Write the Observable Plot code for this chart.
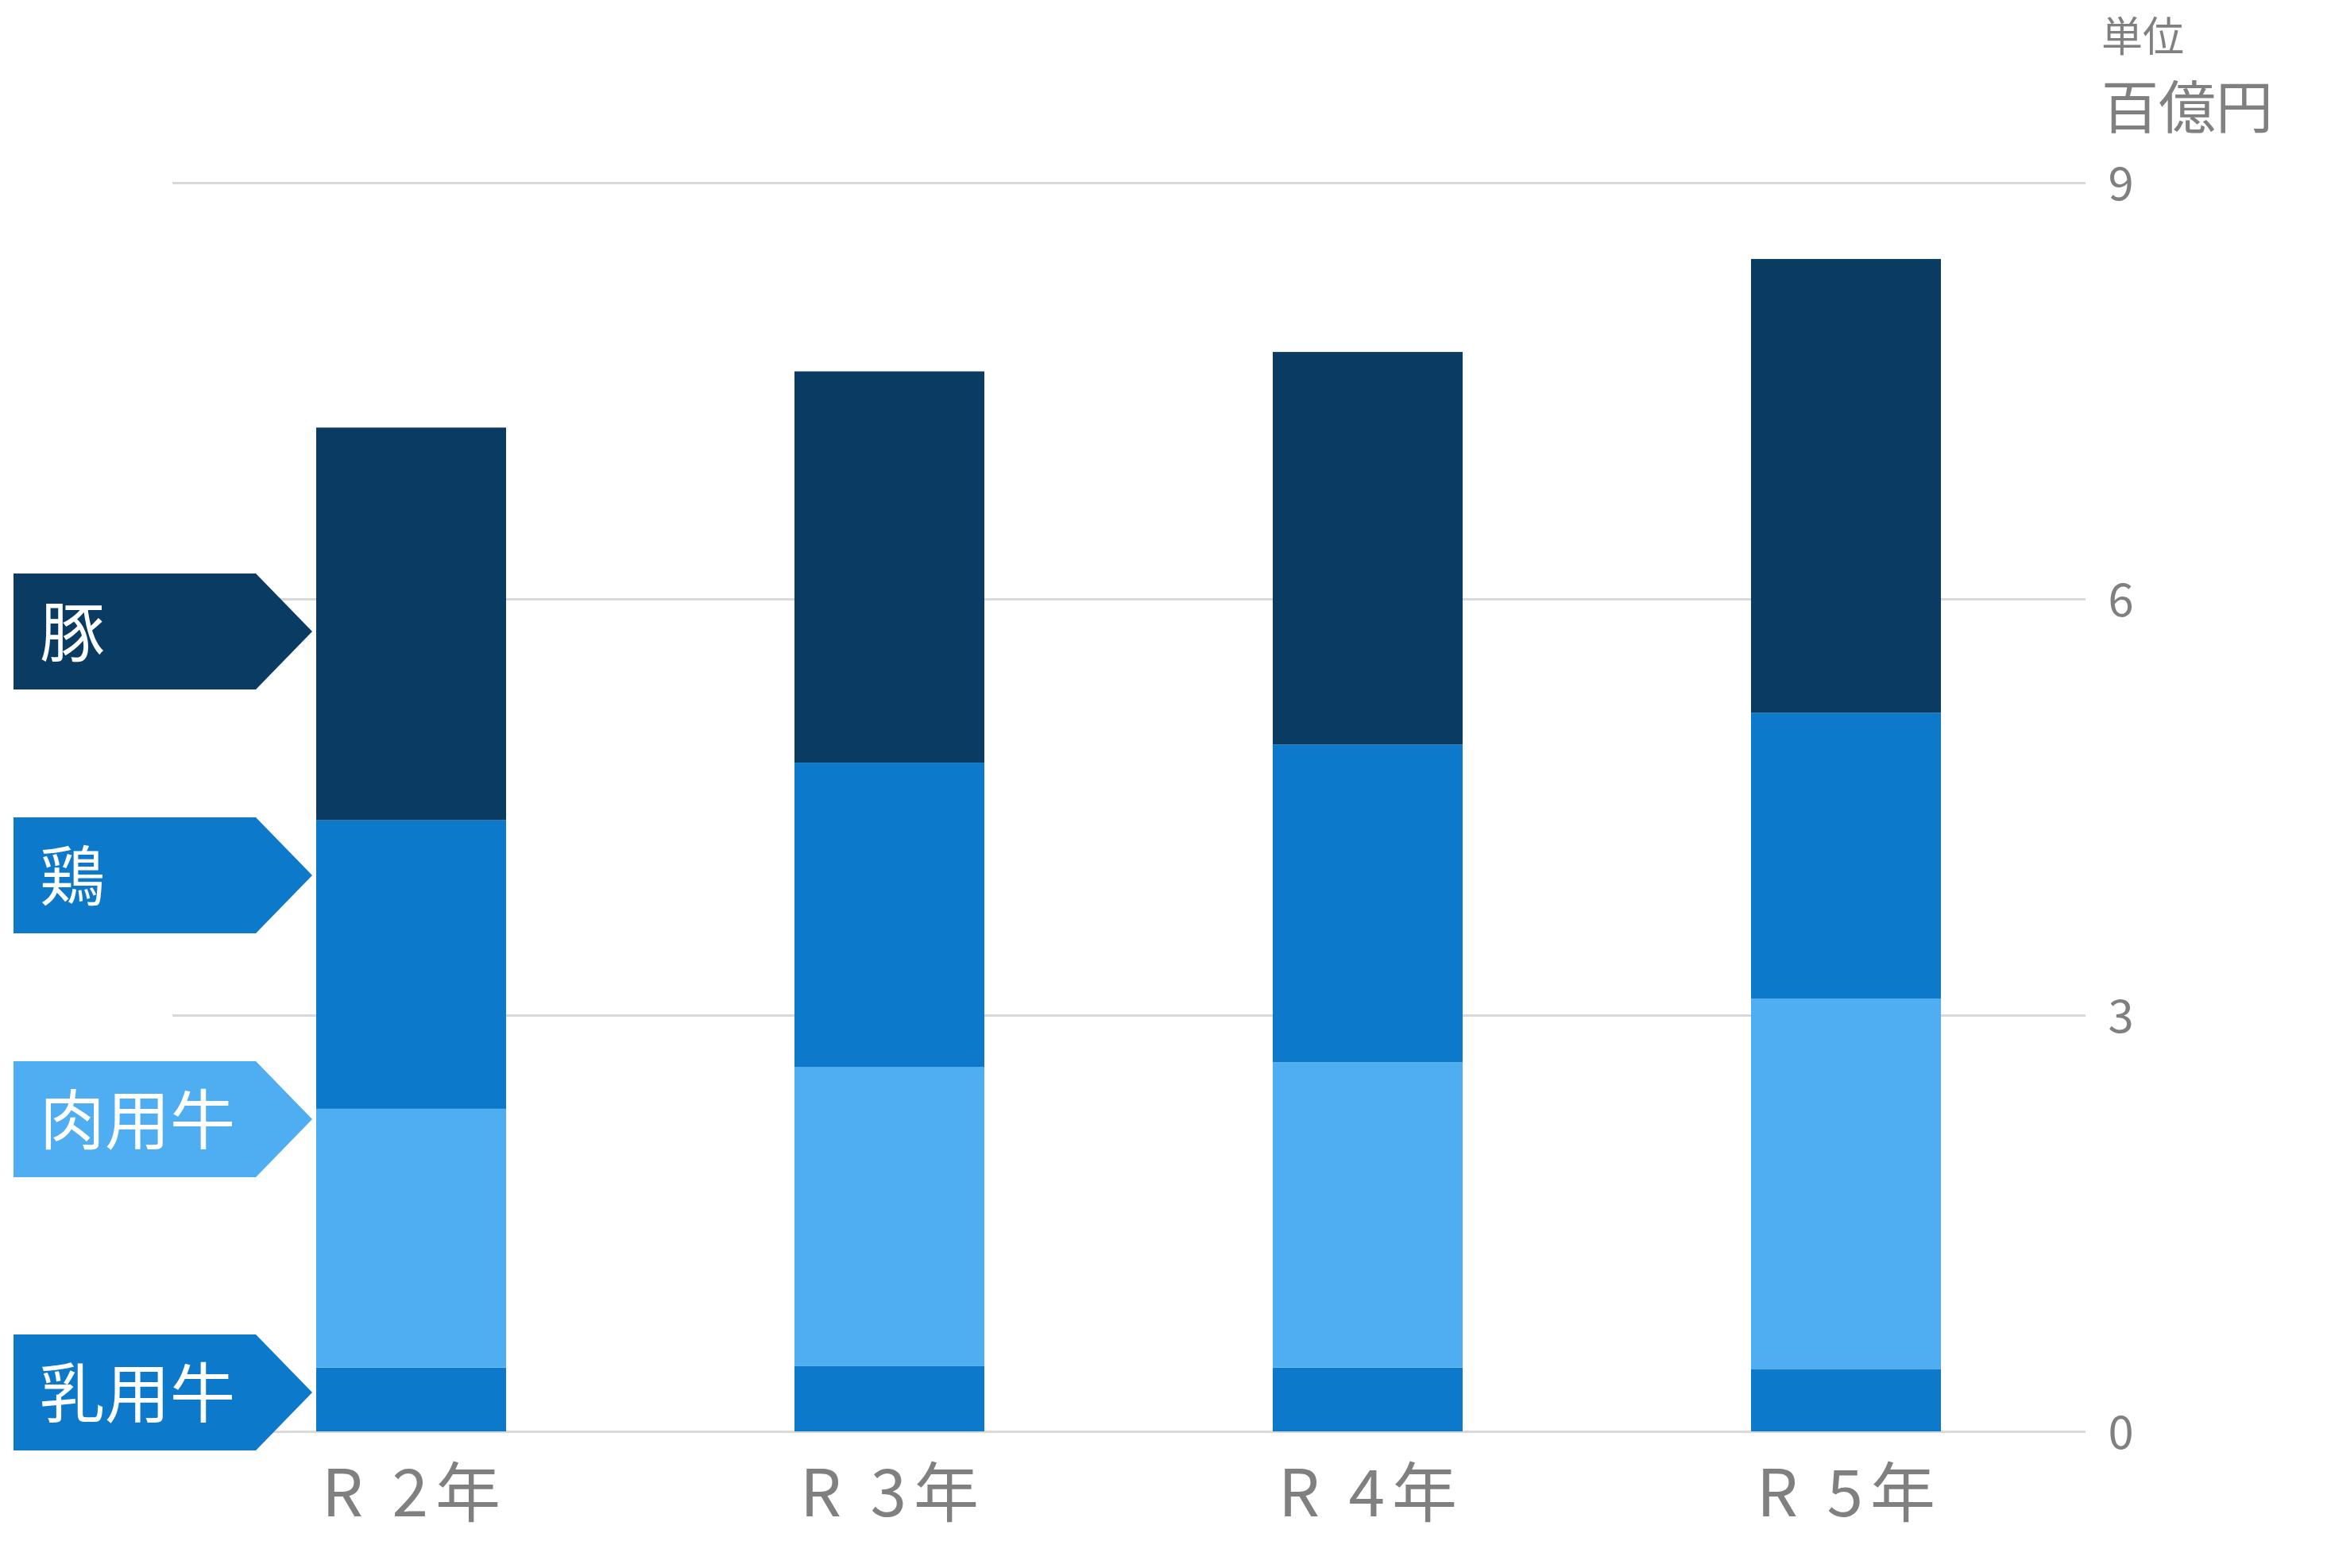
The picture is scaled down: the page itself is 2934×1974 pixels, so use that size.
<!DOCTYPE html>
<html>
<head>
<meta charset="utf-8">
<script src="https://cdn.jsdelivr.net/npm/d3@7"></script>
<script src="https://cdn.jsdelivr.net/npm/@observablehq/plot@0.6"></script>
<style>
  html, body { margin: 0; padding: 0; background: #ffffff; }
  #wrap { position: relative; width: 2934px; height: 1974px; font-family: "Noto Sans CJK JP", "Noto Sans", sans-serif; }
  #overlay { position: absolute; left: 0; top: 0; pointer-events: none; }
  g[aria-label="x-axis tick label"] text { letter-spacing: 9px; }
</style>
</head>
<body>
<div id="wrap"></div>
<script>
// ---- data ----
const years = ["R 2年", "R 3年", "R 4年", "R 5年"];
const seriesNames = ["乳用牛", "肉用牛", "鶏", "豚"]; // stacked bottom -> top
const dairyCattle = [0.46, 0.47, 0.46, 0.45];
const beefCattle  = [1.865, 2.155, 2.20, 2.67];
const chicken     = [2.08, 2.195, 2.29, 2.06];
const pork        = [2.83, 2.82, 2.83, 3.27];
const seriesColors = ["#0D79CA", "#4FADF1", "#0D79CA", "#093B63"];
const yTicks = [0, 3, 6, 9];
const unitLabel1 = "単位";
const unitLabel2 = "百億円";
// legend tags, top -> bottom
const legendNames = ["豚", "鶏", "肉用牛", "乳用牛"];
const legendColors = ["#093B63", "#0D79CA", "#4FADF1", "#0D79CA"];

// ---- table ----
const seriesValues = [dairyCattle, beefCattle, chicken, pork];
const rows = [];
years.forEach((yr, i) => {
  seriesNames.forEach((s, j) => rows.push({year: yr, series: s, value: seriesValues[j][i]}));
});

const font = "Noto Sans CJK JP, Noto Sans, sans-serif";
const chart = Plot.plot({
  width: 2934,
  height: 1974,
  marginTop: 230,
  marginBottom: 172,
  marginLeft: 217,
  marginRight: 309,
  style: {fontFamily: font, color: "#808080", background: "#ffffff"},
  x: {domain: years, paddingInner: 0.6025, paddingOuter: 0.30125, label: null},
  y: {domain: [0, 9], label: null},
  color: {domain: seriesNames, range: seriesColors},
  marks: [
    Plot.gridY(yTicks, {stroke: "#d9d9d9", strokeOpacity: 1, strokeWidth: 3}),
    Plot.barY(rows, Plot.stackY({x: "year", y: "value", fill: "series", order: null})),
    Plot.axisY({anchor: "right", ticks: yTicks, tickSize: 0, tickPadding: 28, fontSize: 58, label: null, fill: "#808080", dy: 3}),
    Plot.axisX({tickSize: 0, tickPadding: 48, fontSize: 82, label: null, fill: "#808080", dx: 4})
  ]
});
document.getElementById("wrap").appendChild(chart);

// ---- overlay: legend tags and unit label ----
const ns = "http://www.w3.org/2000/svg";
const ov = document.createElementNS(ns, "svg");
ov.setAttribute("id", "overlay");
ov.setAttribute("width", 2934);
ov.setAttribute("height", 1974);
const tagTops = [722, 1029, 1336, 1680];
const tagH = 146, tagX0 = 17, tagX1 = 322, tagTip = 393;
legendNames.forEach((name, i) => {
  const t = tagTops[i], m = t + tagH / 2;
  const p = document.createElementNS(ns, "polygon");
  p.setAttribute("points", `${tagX0},${t} ${tagX1},${t} ${tagTip},${m} ${tagX1},${t + tagH} ${tagX0},${t + tagH}`);
  p.setAttribute("fill", legendColors[i]);
  ov.appendChild(p);
  const tx = document.createElementNS(ns, "text");
  tx.setAttribute("x", 50);
  tx.setAttribute("y", m);
  tx.setAttribute("dy", "0.38em");
  tx.setAttribute("fill", "#ffffff");
  tx.setAttribute("font-size", 82);
  tx.setAttribute("font-family", font);
  tx.textContent = name;
  ov.appendChild(tx);
});
[[unitLabel1, 45, 52], [unitLabel2, 134, 72]].forEach(([txt, cy, fs]) => {
  const tx = document.createElementNS(ns, "text");
  tx.setAttribute("x", 2645);
  tx.setAttribute("y", cy);
  tx.setAttribute("dy", "0.38em");
  tx.setAttribute("fill", "#808080");
  tx.setAttribute("font-size", fs);
  tx.setAttribute("font-family", font);
  tx.textContent = txt;
  ov.appendChild(tx);
});
document.getElementById("wrap").appendChild(ov);
</script>
</body>
</html>
